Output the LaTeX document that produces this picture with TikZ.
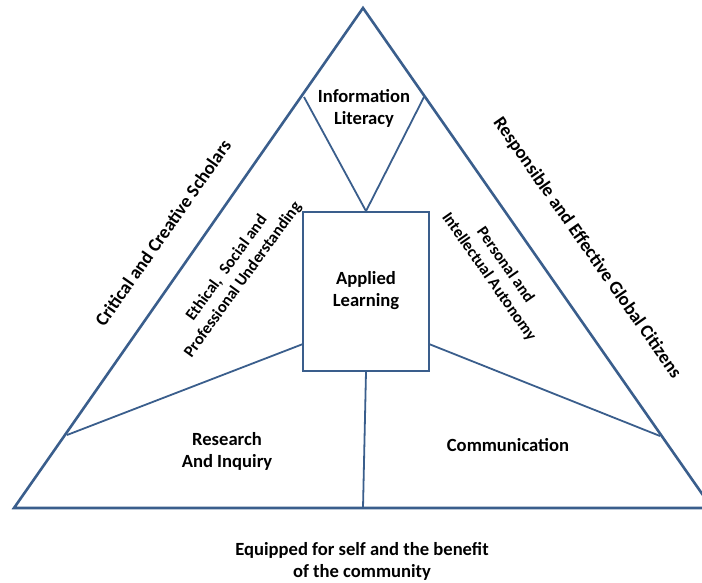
\documentclass[tikz,border=0pt]{standalone}
\usepackage{fontspec}
\setmainfont{Carlito}
\definecolor{edge}{RGB}{58,94,140}
\begin{document}
\begin{tikzpicture}[x=1pt,y=-1pt]
  \tikzstyle{outer} = [draw=edge, line width=2.6pt, line join=miter]
  \tikzstyle{inner} = [draw=edge, line width=1.8pt]
  \tikzstyle{lbl} = [font=\bfseries\fontsize{18.6}{22}\selectfont, align=center, inner sep=0pt]
  \tikzstyle{side} = [font=\bfseries\fontsize{16.4}{20}\selectfont, align=center, inner sep=0pt]

  \clip (0,0) rectangle (702,582);

  \coordinate (apex) at (363,8);
  \coordinate (bl) at (14,508);
  \coordinate (br) at (712,508);
  \coordinate (dl) at (304,97);
  \coordinate (dr) at (424,97);
  \coordinate (ll) at (67,435);
  \coordinate (rl) at (660,436);
  \coordinate (alw) at (303,344);
  \coordinate (ale) at (429,344);
  \coordinate (bm) at (363,508);

  \draw [outer] (bl) -- (apex) -- (br) -- cycle;
  \node (al) [draw=edge, line width=1.8pt, minimum width=126pt, minimum height=159pt] at (366,291.5) {};
  \draw [inner] (dl) -- (al.north) -- (dr);
  \draw [inner] (ll) -- (alw);
  \draw [inner] (rl) -- (ale);
  \draw [inner] (al.south) -- (bm);

  \node (info) [lbl] at (364,108) {Information\\Literacy};
  \node (applied) [lbl] at (366,291) {Applied\\Learning};
  \node (research) [lbl] at (227,451) {Research\\And Inquiry};
  \node (comm) [lbl] at (508,445) {Communication};
  \node (equip) [lbl] at (362,561) {Equipped for self and the benefit\\of the community};
  \node (critical) [lbl, rotate=55] at (163,233) {Critical and Creative Scholars};
  \node (global) [lbl, rotate=-55] at (587,248) {Responsible and Effective Global Citizens};
  \node (ethical) [side, rotate=54] at (235,274) {Ethical,\ \ Social and\\Professional Understanding};
  \node (auto) [side, rotate=-55] at (497,271) {Personal and\\Intellectual Autonomy};
\end{tikzpicture}
\end{document}
